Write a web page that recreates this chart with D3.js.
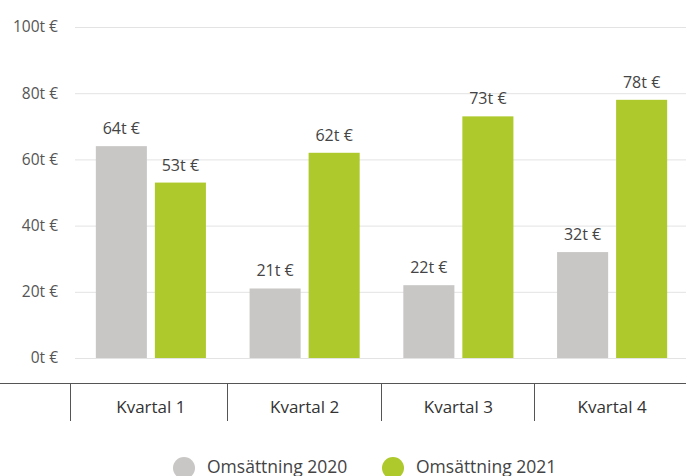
<!DOCTYPE html>
<html>
<head>
<meta charset="utf-8">
<script src="https://cdn.jsdelivr.net/npm/d3@7"></script>
<style>
  body { margin: 0; background: #fff; }
  svg { display: block; font-family: "Open Sans", sans-serif; }
</style>
</head>
<body>
<script>
var categories = ["Kvartal 1", "Kvartal 2", "Kvartal 3", "Kvartal 4"];
var seriesNames = ["Omsättning 2020", "Omsättning 2021"];
var values2020 = [64, 21, 22, 32];
var values2021 = [53, 62, 73, 78];
var yTicks = [0, 20, 40, 60, 80, 100];
var colors = ["#c8c7c5", "#adc92b"];

var width = 686, height = 476;

var svg = d3.select("body")
    .append("svg")
    .attr("width", width)
    .attr("height", height);

var y = d3.scaleLinear()
    .domain([0, 100])
    .range([358, 27]);

var x = d3.scaleBand()
    .domain(categories)
    .range([74, 689]);

var xs = d3.scaleBand()
    .domain([0, 1])
    .range([0, x.bandwidth()])
    .paddingInner(0.135)
    .paddingOuter(0.37);

// gridlines
svg.append("g")
    .selectAll("line")
    .data(yTicks)
    .enter().append("line")
    .attr("x1", 75)
    .attr("x2", width)
    .attr("y1", function(d) { return y(d) + 0.5; })
    .attr("y2", function(d) { return y(d) + 0.5; })
    .attr("stroke", "#e3e3e3")
    .attr("stroke-width", 1);

// y tick labels
svg.append("g")
    .selectAll("text")
    .data(yTicks)
    .enter().append("text")
    .attr("x", 58)
    .attr("y", function(d) { return y(d); })
    .attr("dy", "0.35em")
    .attr("text-anchor", "end")
    .attr("fill", "#555")
    .style("font-size", "15.5px")
    .text(function(d) { return d + "t €"; });

var rows = categories.map(function(c, i) {
    return { cat: c, vals: [values2020[i], values2021[i]] };
});

var groups = svg.selectAll(".grp")
    .data(rows)
    .enter().append("g")
    .attr("class", "grp")
    .attr("transform", function(d) { return "translate(" + x(d.cat) + ",0)"; });

groups.selectAll("rect")
    .data(function(d) { return d.vals; })
    .enter().append("rect")
    .attr("x", function(d, i) { return xs(i); })
    .attr("width", xs.bandwidth())
    .attr("y", function(d) { return y(d); })
    .attr("height", function(d) { return y(0) - y(d); })
    .attr("fill", function(d, i) { return colors[i]; });

groups.selectAll("text")
    .data(function(d) { return d.vals; })
    .enter().append("text")
    .attr("x", function(d, i) { return xs(i) + xs.bandwidth() / 2; })
    .attr("y", function(d) { return y(d) - 12; })
    .attr("text-anchor", "middle")
    .attr("fill", "#444")
    .style("font-size", "16px")
    .text(function(d) { return d + "t €"; });

// category axis
svg.append("line")
    .attr("x1", 0)
    .attr("x2", width)
    .attr("y1", 383.5)
    .attr("y2", 383.5)
    .attr("stroke", "#555")
    .attr("stroke-width", 1);

// separators (first one sits a bit further left)
svg.append("g")
    .selectAll("line")
    .data(categories)
    .enter().append("line")
    .attr("x1", function(d, i) { return Math.floor(x(d) - (i == 0 ? 4 : 0.5)) + 0.5; })
    .attr("x2", function(d, i) { return Math.floor(x(d) - (i == 0 ? 4 : 0.5)) + 0.5; })
    .attr("y1", 383)
    .attr("y2", 421)
    .attr("stroke", "#555")
    .attr("stroke-width", 1);

svg.append("g")
    .selectAll("text")
    .data(categories)
    .enter().append("text")
    .attr("x", function(d) { return x(d) + x.bandwidth() / 2; })
    .attr("y", 413)
    .attr("text-anchor", "middle")
    .attr("fill", "#333")
    .style("font-size", "17px")
    .text(function(d) { return d; });

// legend
var legendX = [184, 393];
var legend = svg.selectAll(".leg")
    .data(seriesNames)
    .enter().append("g")
    .attr("class", "leg")
    .attr("transform", function(d, i) { return "translate(" + legendX[i] + ",468)"; });

legend.append("circle")
    .attr("r", 11)
    .attr("fill", function(d, i) { return colors[i]; });

legend.append("text")
    .attr("x", 23)
    .attr("y", 5)
    .attr("fill", "#444")
    .style("font-size", "17.5px")
    .text(function(d) { return d; });
</script>
</body>
</html>
